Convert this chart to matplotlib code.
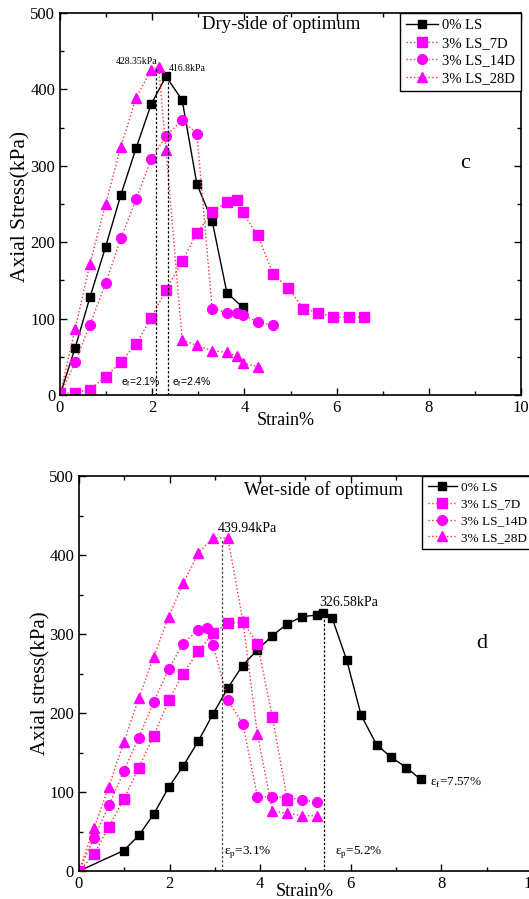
import matplotlib
matplotlib.use('Agg')
import matplotlib.pyplot as plt
from matplotlib.ticker import MultipleLocator

plt.rcParams['font.family'] = ['Liberation Serif', 'DejaVu Serif']
plt.rcParams['mathtext.fontset'] = 'custom'
plt.rcParams['mathtext.rm'] = 'Liberation Serif'

labels = ['0% LS', '3% LS_7D', '3% LS_14D', '3% LS_28D']

# dry side of optimum (top panel)
dry_x_0 = [0, 0.33, 0.65, 0.99, 1.32, 1.65, 1.98, 2.30, 2.65, 2.97, 3.30, 3.62, 3.96]
dry_y_0 = [0, 62, 128, 194, 262, 323, 381, 417, 386, 276, 228, 134, 115]
dry_x_7 = [0, 0.33, 0.65, 0.99, 1.32, 1.65, 1.98, 2.30, 2.65, 2.97, 3.30, 3.62, 3.83, 3.96,
           4.29, 4.62, 4.95, 5.28, 5.60, 5.93, 6.27, 6.59]
dry_y_7 = [2, 3, 7, 24, 43, 67, 101, 138, 175, 212, 239, 253, 255, 239,
           209, 159, 140, 113, 108, 102, 102, 102]
dry_x_14 = [0, 0.33, 0.65, 0.99, 1.32, 1.65, 1.98, 2.30, 2.65, 2.97, 3.30, 3.62, 3.83, 3.96, 4.29, 4.62]
dry_y_14 = [0, 43, 92, 146, 205, 256, 309, 339, 360, 342, 113, 108, 108, 105, 96, 91]
dry_x_28 = [0, 0.33, 0.65, 0.99, 1.32, 1.65, 1.98, 2.14, 2.30, 2.65, 2.97, 3.30, 3.62, 3.83, 3.96, 4.29]
dry_y_28 = [0, 87, 172, 250, 325, 389, 426, 430, 321, 72, 65, 58, 56, 51, 42, 37]

# wet side of optimum (bottom panel)
wet_x_0 = [0, 0.99, 1.32, 1.65, 1.98, 2.30, 2.63, 2.96, 3.29, 3.61, 3.94, 4.27, 4.60, 4.93,
           5.25, 5.39, 5.59, 5.91, 6.23, 6.57, 6.89, 7.23, 7.54]
wet_y_0 = [0, 26, 45, 72, 106, 133, 164, 199, 232, 260, 280, 298, 313, 322,
           324, 326, 320, 267, 197, 160, 144, 131, 116]
wet_x_7 = [0, 0.33, 0.66, 0.99, 1.32, 1.65, 1.98, 2.30, 2.63, 2.96, 3.29, 3.62, 3.94, 4.27, 4.60]
wet_y_7 = [0, 21, 56, 91, 131, 171, 216, 250, 278, 301, 314, 315, 288, 195, 90]
wet_x_14 = [0, 0.33, 0.66, 0.99, 1.32, 1.65, 1.98, 2.30, 2.63, 2.82, 2.96, 3.29, 3.62,
            3.94, 4.27, 4.60, 4.93, 5.25]
wet_y_14 = [0, 42, 83, 126, 169, 214, 256, 288, 305, 307, 286, 216, 186,
            94, 94, 93, 90, 87]
wet_x_28 = [0, 0.33, 0.66, 0.99, 1.32, 1.65, 1.98, 2.30, 2.63, 2.96, 3.29, 3.62, 3.94,
            4.27, 4.60, 4.93, 5.25]
wet_y_28 = [0, 54, 107, 163, 219, 271, 322, 364, 402, 422, 421, 316, 173,
            76, 73, 70, 70]


def style_axes(ax, right=True):
    ax.set_xlim(0, 10)
    ax.set_ylim(0, 500)
    ax.xaxis.set_major_locator(MultipleLocator(2))
    ax.xaxis.set_minor_locator(MultipleLocator(1))
    ax.yaxis.set_major_locator(MultipleLocator(100))
    ax.yaxis.set_minor_locator(MultipleLocator(50))
    ax.tick_params(which='both', direction='in', top=True, right=right, labelsize=12, width=1)
    ax.tick_params(which='major', length=5)
    ax.tick_params(which='minor', length=3)
    for s in ax.spines.values():
        s.set_linewidth(1.2)


def plot_series(ax, xs, ys):
    ax.plot(xs[0], ys[0], '-s', color='black', lw=1, ms=6, mfc='black', mec='black',
            label=labels[0])
    mk = ['s', 'o', '^']
    ms = [6.5, 7, 7.5]
    for i in range(3):
        ax.plot(xs[i + 1], ys[i + 1], ':', color='#ff3030', lw=1, marker=mk[i], ms=ms[i],
                mfc='#ff00ff', mec='#ff00ff', label=labels[i + 1])


fig = plt.figure(figsize=(5.29, 8.99), dpi=100)

# ---- top panel ----
ax1 = fig.add_axes([0.1134, 0.5606, 0.8715, 0.4249])
style_axes(ax1)
plot_series(ax1, [dry_x_0, dry_x_7, dry_x_14, dry_x_28], [dry_y_0, dry_y_7, dry_y_14, dry_y_28])
ax1.plot([2.09, 2.09], [0, 428], color='black', ls=(0, (2, 1.5)), lw=0.9)
ax1.plot([2.34, 2.34], [0, 417], color='black', ls=(0, (2, 1.5)), lw=0.9)
ax1.text(1.22, 436, '428.35kPa', fontsize=7, va='center')
ax1.text(2.35, 427, '416.8kPa', fontsize=7, va='center')
ax1.text(1.33, 17, r'e$_\mathregular{f}$=2.1%', fontsize=7.5, va='center',
         family=['Liberation Sans', 'DejaVu Sans'])
ax1.text(2.43, 17, r'e$_\mathregular{f}$=2.4%', fontsize=7.5, va='center',
         family=['Liberation Sans', 'DejaVu Sans'])
ax1.text(0.48, 0.971, 'Dry-side of optimum', transform=ax1.transAxes, fontsize=13.5,
         ha='center', va='center')
ax1.text(0.879, 0.607, 'c', transform=ax1.transAxes, fontsize=16, ha='center', va='center')
ax1.set_ylabel('Axial Stress(kPa)', fontsize=15.5)
ax1.yaxis.set_label_coords(-0.064, 0.495)
ax1.set_xlabel('Strain%', fontsize=13)
ax1.xaxis.set_label_coords(0.49, -0.045)
leg1 = ax1.legend(loc='upper right', bbox_to_anchor=(1, 1), borderaxespad=0, fontsize=10.5,
                  fancybox=False, edgecolor='black', framealpha=1, handlelength=2.2,
                  handletextpad=0.3, labelspacing=0.3, borderpad=0.4)
leg1.get_frame().set_linewidth(1)

# ---- bottom panel ----
ax2 = fig.add_axes([0.1493, 0.0311, 0.8563, 0.4394])
style_axes(ax2, right=False)
plot_series(ax2, [wet_x_0, wet_x_7, wet_x_14, wet_x_28], [wet_y_0, wet_y_7, wet_y_14, wet_y_28])
ax2.plot([3.15, 3.15], [0, 420], color='#444444', ls=(0, (2, 1.5)), lw=0.9)
ax2.plot([5.40, 5.40], [0, 326], color='black', ls=(0, (2, 1.5)), lw=0.9)
ax2.text(3.07, 433, '439.94kPa', fontsize=10, va='center')
ax2.text(5.30, 340, '326.58kPa', fontsize=10, va='center')
ax2.text(3.20, 24, r'ε$_\mathregular{p}$=3.1%', fontsize=9.5, va='center')
ax2.text(5.65, 24, r'ε$_\mathregular{p}$=5.2%', fontsize=9.5, va='center')
ax2.text(7.75, 111, r'ε$_\mathregular{f}$=7.57%', fontsize=9.5, va='center')
ax2.text(0.539, 0.965, 'Wet-side of optimum', transform=ax2.transAxes, fontsize=13.5,
         ha='center', va='center')
ax2.text(0.89, 0.577, 'd', transform=ax2.transAxes, fontsize=16, ha='center', va='center')
ax2.set_ylabel('Axial stress(kPa)', fontsize=15)
ax2.yaxis.set_label_coords(-0.063, 0.476)
ax2.set_xlabel('Strain%', fontsize=13)
ax2.xaxis.set_label_coords(0.499, -0.03)
leg2 = ax2.legend(loc='upper right', bbox_to_anchor=(1, 1), borderaxespad=0, fontsize=9.5,
                  fancybox=False, edgecolor='black', framealpha=1, handlelength=2.2,
                  handletextpad=0.3, labelspacing=0.35, borderpad=0.4)
leg2.get_frame().set_linewidth(1)

fig.savefig('out.png', dpi=100)
